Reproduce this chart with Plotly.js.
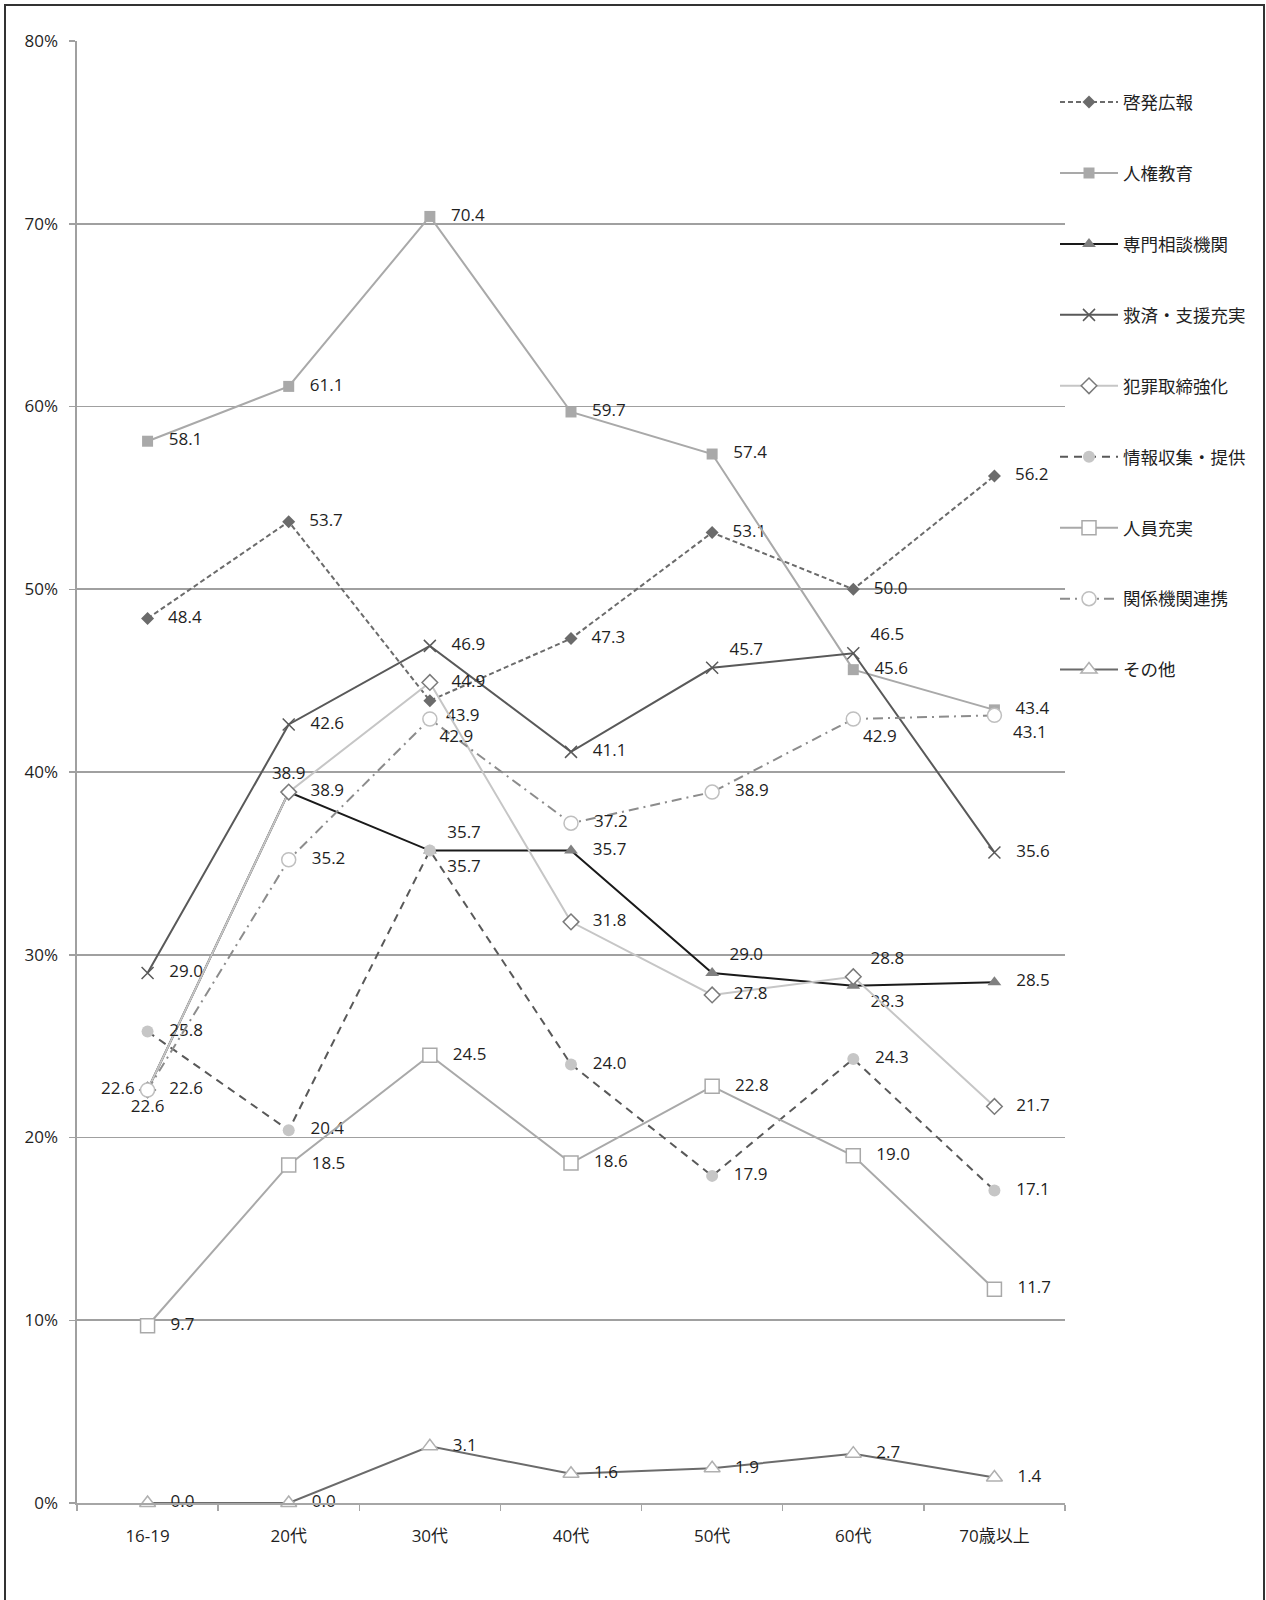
<!DOCTYPE html>
<html>
<head>
<meta charset="utf-8">
<script src="https://cdn.plot.ly/plotly-3.0.1.min.js"></script>
<style>
  html, body { margin: 0; padding: 0; background: #ffffff; }
  #chart { width: 1266px; height: 1600px; }
</style>
</head>
<body>
<div id="chart"></div>
<script>
// ---- data ----
const categories = ['16-19', '20代', '30代', '40代', '50代', '60代', '70歳以上'];
const seriesNames = ['啓発広報', '人権教育', '専門相談機関', '救済・支援充実', '犯罪取締強化', '情報収集・提供', '人員充実', '関係機関連携', 'その他'];

const keihatsu   = [48.4, 53.7, 43.9, 47.3, 53.1, 50.0, 56.2];
const jinken     = [58.1, 61.1, 70.4, 59.7, 57.4, 45.6, 43.4];
const senmon     = [22.6, 38.9, 35.7, 35.7, 29.0, 28.3, 28.5];
const kyusai     = [29.0, 42.6, 46.9, 41.1, 45.7, 46.5, 35.6];
const hanzai     = [22.6, 38.9, 44.9, 31.8, 27.8, 28.8, 21.7];
const jouhou     = [25.8, 20.4, 35.7, 24.0, 17.9, 24.3, 17.1];
const jinin      = [9.7, 18.5, 24.5, 18.6, 22.8, 19.0, 11.7];
const kankei     = [22.6, 35.2, 42.9, 37.2, 38.9, 42.9, 43.1];
const sonota     = [0.0, 0.0, 3.1, 1.6, 1.9, 2.7, 1.4];

const yTicks = [0, 10, 20, 30, 40, 50, 60, 70, 80];

// ---- styles ----
const FONT = "'Open Sans', 'Noto Sans CJK JP', sans-serif";
const NB = '\u00a0';
// label placement codes -> [plotly textposition, prefix, suffix]
const PLACE = {
  R:  ['middle right', NB + NB + NB, ''],
  TR: ['top right', NB + NB, ''],
  BR: ['bottom right', NB + NB, ''],
  br: ['bottom right', '', ''],
  TC: ['top center', '', ''],
  BC: ['bottom center', '', ''],
  L:  ['middle left', '', NB]
};
const R = 'R';
const styles = [
  { y: keihatsu, line: { color: '#6b6b6b', width: 2, dash: '5px,3px' },
    marker: { symbol: 'diamond', size: 10, color: '#6b6b6b' },
    pos: [R, R, 'BR', R, R, R, R] },
  { y: jinken, line: { color: '#a9a9a9', width: 2 },
    marker: { symbol: 'square', size: 11, color: '#a9a9a9' },
    pos: [R, R, R, R, R, R, R] },
  { y: senmon, line: { color: '#1a1a1a', width: 2 },
    marker: { symbol: 'triangle-up', size: 12, color: '#808080' },
    pos: ['L', 'TC', 'TR', R, 'TR', 'BR', R] },
  { y: kyusai, line: { color: '#595959', width: 2 },
    marker: { symbol: 'x-thin-open', size: 12, color: '#595959', line: { color: '#595959', width: 1.5 } },
    pos: [R, R, R, R, 'TR', 'TR', R] },
  { y: hanzai, line: { color: '#c6c6c6', width: 2 },
    marker: { symbol: 'diamond', size: 12, color: '#ffffff', line: { color: '#7a7a7a', width: 1.5 } },
    pos: [R, R, R, R, R, 'TR', R] },
  { y: jouhou, line: { color: '#595959', width: 2, dash: '8px,6px' },
    marker: { symbol: 'circle', size: 12, color: '#c6c6c6' },
    pos: [R, R, 'BR', R, R, R, R] },
  { y: jinin, line: { color: '#a9a9a9', width: 2 },
    marker: { symbol: 'square', size: 14, color: '#ffffff', line: { color: '#a9a9a9', width: 1.5 } },
    pos: [R, R, R, R, R, R, R] },
  { y: kankei, line: { color: '#8c8c8c', width: 2, dash: '10px,5px,2px,5px' },
    marker: { symbol: 'circle', size: 14, color: '#ffffff', line: { color: '#bfbfbf', width: 1.5 } },
    pos: ['BC', R, 'br', R, R, 'br', 'BR'] },
  { y: sonota, line: { color: '#6b6b6b', width: 2 },
    marker: { symbol: 'triangle-up', size: 14, color: '#ffffff', line: { color: '#b0b0b0', width: 1.5 } },
    pos: [R, R, R, R, R, R, R] }
];

const traces = styles.map((s, i) => ({
  type: 'scatter',
  mode: 'lines+markers+text',
  name: seriesNames[i],
  legendgroup: 'g' + i,
  x: categories,
  y: s.y,
  line: s.line,
  marker: s.marker,
  texttemplate: s.pos.map(p => PLACE[p][1] + '%{y:.1f}' + PLACE[p][2]),
  textposition: s.pos.map(p => PLACE[p][0]),
  textfont: { family: FONT, size: 17, color: '#1f1f1f' },
  cliponaxis: false,
  hoverinfo: 'skip'
}));

// plot area: x 77..1065, y 41..1503
const layout = {
  width: 1266,
  height: 1600,
  margin: { l: 77, r: 201, t: 41, b: 97 },
  paper_bgcolor: '#ffffff',
  plot_bgcolor: '#ffffff',
  font: { family: FONT, size: 17, color: '#1f1f1f' },
  showlegend: true,
  legend: {
    x: (1055 - 77) / 988, xanchor: 'left',
    y: 0.9705, yanchor: 'top',
    tracegroupgap: 45.2,
    itemwidth: 58,
    font: { family: FONT, size: 17.5, color: '#1f1f1f' },
    bgcolor: 'rgba(0,0,0,0)',
    borderwidth: 0
  },
  xaxis: {
    type: 'category',
    range: [-0.5, 6.5],
    showgrid: false,
    showline: true,
    linecolor: '#a6a6a6',
    linewidth: 1.5,
    ticks: 'outside',
    tickson: 'boundaries',
    ticklen: 6,
    tickcolor: '#a6a6a6',
    tickwidth: 1.5,
    ticklabelstandoff: 17,
    tickfont: { family: FONT, size: 17, color: '#1f1f1f' },
    zeroline: false,
    fixedrange: true
  },
  yaxis: {
    range: [0, 80],
    tickmode: 'array',
    tickvals: yTicks,
    ticktext: yTicks.map(v => v + '%'),
    showgrid: true,
    gridcolor: '#a0a0a0',
    gridwidth: 1.6,
    showline: true,
    linecolor: '#a0a0a0',
    linewidth: 1.6,
    ticks: 'outside',
    ticklen: 6,
    tickcolor: '#a0a0a0',
    tickwidth: 1.5,
    ticklabelstandoff: 8,
    tickfont: { family: FONT, size: 17, color: '#1f1f1f' },
    zeroline: false,
    fixedrange: true
  },
  shapes: [{
    type: 'rect', xref: 'paper', yref: 'paper',
    x0: (5 - 77) / 988, x1: (1264 - 77) / 988,
    y0: (1503 - 1640) / 1462, y1: (1503 - 5) / 1462,
    line: { color: '#333333', width: 2 },
    fillcolor: 'rgba(0,0,0,0)',
    layer: 'below'
  }]
};

Plotly.newPlot('chart', traces, layout, { staticPlot: true, displayModeBar: false });
</script>
</body>
</html>
